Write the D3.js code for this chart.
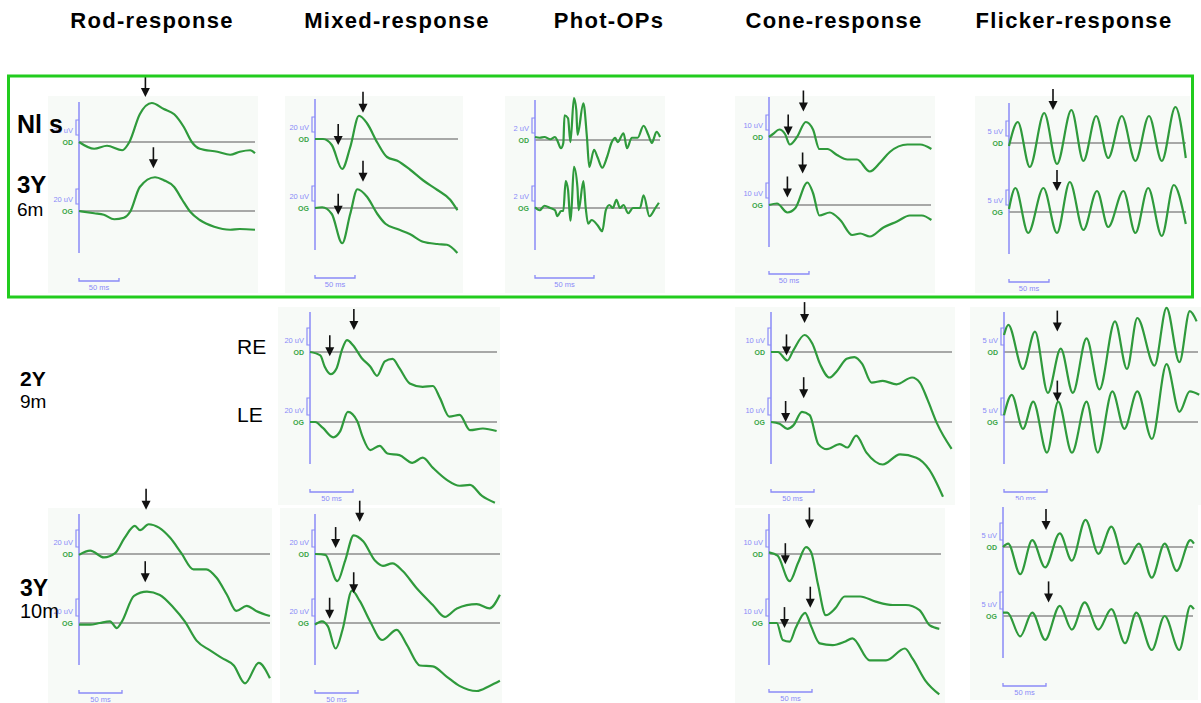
<!DOCTYPE html>
<html>
<head>
<meta charset="utf-8">
<script src="https://cdn.jsdelivr.net/npm/d3@7"></script>
<style>
  body { margin: 0; background: #fff; }
  svg text { font-family: "Liberation Sans", Arial, sans-serif; }
</style>
</head>
<body>
<div id="chart"></div>
<script>
// column titles and row labels
var columns = ["Rod-response", "Mixed-response", "Phot-OPs", "Cone-response", "Flicker-response"];
var ages = [["Nl s", "3Y", "6m"], ["2Y", "9m"], ["3Y", "10m"]];
var eyes = ["RE", "LE"];

// traces: [time ms, amplitude uV]
var rod1OD = [[0,0],[19,-9],[35,-5],[54,-11],[63,0],[76,37],[91,52],[106,44],[119,37],[131,20],[141,0],[151,-9],[173,-13],[189,-17],[201,-13],[214,-11],[220,-15]];
var rod1OG = [[0,0],[19,-3],[31,-5],[44,-11],[56,-9],[64,-1],[76,32],[95,45],[106,41],[119,32],[129,15],[139,-1],[151,-12],[169,-21],[189,-25],[201,-24],[220,-25]];
var rod1Arrows = [["OD",83,60],["OG",93,57]];

var mixed1OD = [[0,0],[10,0],[21,-8],[34,-40],[44,-11],[55,31],[65,21],[78,-5],[90,-24],[103,-29],[119,-41],[135,-55],[153,-68],[169,-81],[178,-95]];
var mixed1OG = [[0,0],[9,1],[21,-8],[34,-47],[44,-8],[53,25],[65,15],[78,-8],[88,-21],[103,-28],[119,-35],[135,-45],[153,-48],[165,-49],[178,-60]];
var mixed1Arrows = [["OD",29,-8],["OD",60,35],["OG",29,-9],["OG",60,35]];

var ops1OD = [[0,0.4],[4,0.3],[8,0.4],[13,0.1],[17,0.4],[19,-0.1],[22,-1.1],[24,-0.4],[25,3.3],[28,2.9],[30,-0.3],[33,5.6],[35,4],[36,0.7],[41,4.9],[44,0.4],[46,-3.6],[50,-1.3],[53,-2.3],[57,-3.7],[61,-2.3],[65,-0.3],[68,0.3],[70,-0.3],[75,0.9],[78,-1.1],[82,0.3],[87,0.3],[92,1.9],[96,0.7],[99,-0.4],[103,1.1],[106,0.4]];
var ops1OG = [[0,0.1],[4,-0.3],[8,0.3],[13,0],[17,-0.3],[19,-1.1],[22,-0.4],[24,-0.4],[26,3.6],[28,2.4],[30,-1.7],[31,0],[33,5.5],[36,2.7],[37,-0.3],[41,3.6],[43,0],[45,-2.1],[48,-1.6],[53,-2.3],[57,-3.1],[60,-0.3],[63,0.4],[66,0],[69,1.1],[72,0],[75,0.4],[79,-0.7],[83,0],[89,0],[92,1.7],[97,-1.1],[102,0],[105,0.7]];

var cone1OD = [[0,0],[5,2],[13,5],[20,2],[26,-5],[35,0],[46,10],[55,5],[63,-8],[73,-8],[85,-12],[98,-15],[110,-15],[126,-23],[139,-17],[151,-10],[173,-5],[189,-5],[203,-8]];
var cone1OG = [[0,0],[10,1],[23,-5],[33,-2],[48,15],[55,8],[63,-7],[76,-5],[89,-10],[104,-20],[114,-19],[126,-21],[143,-15],[160,-11],[176,-7],[191,-7],[203,-10]];
var cone1Arrows = [["OD",24,1],["OD",43,17],["OG",23,5],["OG",42,21]];

var flick1OD = [[0,-1],[11,7],[26,-8],[44,10],[60,-7],[78,11],[93,-6],[109,9],[124,-5],[141,9],[158,-6],[175,9],[191,-6],[208,12],[221,-5]];
var flick1OG = [[0,1],[8,8],[24,-7],[43,8],[60,-7],[76,10],[93,-6],[110,7],[124,-5],[143,7],[158,-7],[174,8],[191,-8],[206,9],[221,-4]];
var flick1Arrows = [["OD",55,11],["OG",60,7]];

var mixed2OD = [[0,0],[12,-4],[17,-17],[24,-26],[31,-19],[37,2],[43,14],[50,8],[60,-7],[70,-17],[78,-28],[87,-11],[96,-8],[104,-19],[116,-37],[131,-41],[143,-40],[151,-54],[162,-76],[174,-74],[186,-92],[201,-90],[217,-93]];
var mixed2OG = [[0,0],[6,0],[15,-7],[27,-18],[35,-11],[44,12],[55,1],[61,-17],[70,-33],[81,-28],[90,-37],[104,-39],[119,-48],[131,-42],[143,-54],[159,-68],[174,-75],[186,-74],[200,-87],[215,-95]];
var mixed2Arrows = [["OD",23,-5],["OD",51,26]];

var cone2OD = [[0,0],[8,0],[19,-5],[26,1],[39,10],[48,5],[57,-7],[68,-15],[77,-11],[88,-4],[97,-3],[106,-7],[117,-18],[130,-17],[146,-19],[164,-15],[173,-18],[182,-28],[193,-42],[210,-57]];
var cone2OG = [[0,0],[10,-1],[19,-4],[26,-2],[36,6],[45,4],[55,-13],[65,-16],[80,-13],[89,-15],[99,-8],[111,-18],[130,-25],[150,-19],[169,-21],[184,-28],[200,-44]];
var cone2Arrows = [["OD",18,-2],["OD",39,17],["OG",17,0],["OG",38,14]];

var flick2OD = [[0,5],[5,8],[22,-5],[36,6],[51,-12],[66,1],[80,-12],[96,4],[111,-11],[129,9],[143,-5],[155,10],[175,-4],[189,13],[204,-3],[216,12],[224,9]];
var flick2OG = [[0,2],[9,8],[22,-2],[34,6],[50,-9],[63,6],[79,-9],[96,6],[109,-9],[126,9],[140,-2],[155,9],[172,-5],[189,17],[204,3],[216,9],[227,8]];
var flick2Arrows = [["OD",62,6],["OG",62,6]];

var rod3OD = [[0,-1],[13,4],[29,-4],[42,1],[53,19],[65,33],[71,28],[81,35],[93,31],[106,19],[119,1],[133,-18],[148,-18],[160,-28],[172,-48],[183,-67],[195,-61],[206,-67],[222,-73]];
var rod3OG = [[0,-2],[13,-2],[24,0],[36,2],[44,-6],[50,2],[64,32],[79,37],[94,33],[110,18],[123,2],[137,-21],[152,-32],[166,-41],[180,-50],[193,-71],[209,-47],[222,-65]];
var rod3Arrows = [["OD",78,52],["OG",77,48]];

var mixed3OD = [[0,0],[12,-1],[26,-32],[35,-8],[45,22],[56,15],[70,-8],[79,-14],[90,-11],[102,-20],[118,-40],[137,-60],[151,-74],[165,-64],[188,-59],[203,-64],[215,-48]];
var mixed3OG = [[0,-2],[8,2],[15,-4],[24,-30],[32,-8],[43,38],[52,26],[64,2],[78,-20],[95,-8],[107,-26],[122,-50],[137,-51],[153,-63],[168,-74],[188,-80],[203,-74],[215,-68]];
var mixed3Arrows = [["OD",24,7],["OD",52,38],["OG",17,5],["OG",45,35]];

var cone3OD = [[0,1],[10,-1],[24,-16],[34,-5],[43,4],[49,1],[57,-18],[66,-36],[77,-32],[88,-25],[106,-25],[124,-28],[144,-30],[159,-30],[175,-33],[187,-42],[198,-44]];
var cone3OG = [[0,0],[9,0],[16,-10],[24,-11],[31,-3],[42,6],[49,-2],[59,-12],[74,-13],[88,-11],[97,-9],[117,-22],[136,-22],[158,-15],[167,-21],[182,-34],[198,-42]];
var cone3Arrows = [["OD",19,-6],["OD",47,15],["OG",18,-3],["OG",48,9]];

var flick3OD = [[0,0],[6,1],[20,-8],[34,2],[49,-6],[66,4],[80,-4],[96,8],[111,-2],[126,6],[142,-5],[158,1],[173,-9],[188,1],[202,-7],[218,2],[222,1]];
var flick3OG = [[0,1],[5,1],[20,-6],[34,1],[49,-7],[66,3],[80,-4],[95,4],[111,-4],[126,2],[142,-8],[155,1],[173,-10],[188,0],[205,-10],[218,3],[222,2]];
var flick3Arrows = [["OD",50,5],["OG",53,4]];

// panel layout (pixels): axis x, baselines, 50 ms bar length, calibration bracket height
var panels = [
  {row:0, col:0, cal:20, od:rod1OD, og:rod1OG, arrows:rod1Arrows, ax:79, bOD:142, bOG:211, bar:40, calPx:15, end:255, barY:281, bg:[48,96,210,197]},
  {row:0, col:1, cal:20, od:mixed1OD, og:mixed1OG, arrows:mixed1Arrows, ax:315, bOD:139, bOG:208, bar:40, calPx:15, end:458, barY:278, bg:[285,96,178,197]},
  {row:0, col:2, cal:2, od:ops1OD, og:ops1OG, arrows:[], ax:535, bOD:140, bOG:208, bar:59, calPx:15, end:660, barY:278, bg:[505,96,160,197]},
  {row:0, col:3, cal:10, od:cone1OD, og:cone1OG, arrows:cone1Arrows, ax:769, bOD:137, bOG:205, bar:40, calPx:15, end:931, barY:274, bg:[735,96,200,197]},
  {row:0, col:4, cal:5, od:flick1OD, og:flick1OG, arrows:flick1Arrows, ax:1009, bOD:143, bOG:212, bar:40, calPx:15, end:1186, barY:282, bg:[975,96,215,197]},
  {row:1, col:1, cal:20, od:mixed2OD, og:mixed2OG, arrows:mixed2Arrows, ax:310, bOD:352, bOG:422, bar:43, calPx:17, end:497, barY:492, bg:[278,307,222,198]},
  {row:1, col:3, cal:10, od:cone2OD, og:cone2OG, arrows:cone2Arrows, ax:771, bOD:352, bOG:422, bar:43, calPx:17, end:952, barY:492, bg:[735,307,220,198]},
  {row:1, col:4, cal:5, od:flick2OD, og:flick2OG, arrows:flick2Arrows, ax:1004, bOD:352, bOG:422, bar:43, calPx:17, end:1198, barY:492, bg:[970,307,231,198]},
  {row:2, col:0, cal:20, od:rod3OD, og:rod3OG, arrows:rod3Arrows, ax:79, bOD:554, bOG:623, bar:43, calPx:17, end:270, barY:693, bg:[48,508,224,195]},
  {row:2, col:1, cal:20, od:mixed3OD, og:mixed3OG, arrows:mixed3Arrows, ax:315, bOD:554, bOG:623, bar:43, calPx:17, end:500, barY:693, bg:[280,508,222,195]},
  {row:2, col:3, cal:10, od:cone3OD, og:cone3OG, arrows:cone3Arrows, ax:769, bOD:554, bOG:623, bar:43, calPx:17, end:941, barY:692, bg:[735,508,210,195]},
  {row:2, col:4, cal:5, od:flick3OD, og:flick3OG, arrows:flick3Arrows, ax:1003, bOD:547, bOG:616, bar:43, calPx:17, end:1193, barY:686, bg:[970,500,228,200]}
];

var headerX = [152, 397, 609, 834, 1074];

var traceColor = "#2f9a3c";
var blue = "#8a8af7";

var svg = d3.select("#chart")
    .append("svg")
    .attr("width", 1201)
    .attr("height", 703);

// column headers
svg.selectAll(".header")
    .data(columns)
    .enter()
    .append("text")
    .classed("header", true)
    .attr("x", (d, i) => headerX[i])
    .attr("y", 28)
    .attr("text-anchor", "middle")
    .attr("font-size", 22)
    .attr("font-weight", "bold")
    .attr("letter-spacing", 1.3)
    .text(d => d);

panels.forEach(function(p) {
    var g = svg.append("g");

    var x = d3.scaleLinear().domain([0, 50]).range([p.ax, p.ax + p.bar]);
    var yFor = function(base) {
        return d3.scaleLinear().domain([0, p.cal]).range([base, base - p.calPx]);
    };
    var yOD = yFor(p.bOD), yOG = yFor(p.bOG);

    g.append("rect")
        .attr("x", p.bg[0]).attr("y", p.bg[1])
        .attr("width", p.bg[2]).attr("height", p.bg[3])
        .attr("fill", "#f7faf7");

    // baselines
    [p.bOD, p.bOG].forEach(function(b) {
        g.append("line")
            .attr("x1", p.ax).attr("x2", p.end)
            .attr("y1", b).attr("y2", b)
            .attr("stroke", "#8d8d8d")
            .attr("stroke-width", 1.5);
    });

    // vertical axis
    g.append("line")
        .attr("x1", p.ax).attr("x2", p.ax)
        .attr("y1", p.bOD - 40).attr("y2", p.bOG + 42)
        .attr("stroke", blue)
        .attr("stroke-width", 1.5);

    // calibration brackets + labels
    [["OD", yOD], ["OG", yOG]].forEach(function(e) {
        var y = e[1];
        var y0 = y(0) - 7, y1 = y(p.cal) - 7;
        g.append("path")
            .attr("d", "M" + p.ax + "," + y0 + "H" + (p.ax - 3) + "V" + y1 + "H" + p.ax)
            .attr("fill", "none")
            .attr("stroke", blue)
            .attr("stroke-width", 1.2);
        g.append("text")
            .attr("x", p.ax - 6).attr("y", y(0) - 9)
            .attr("text-anchor", "end")
            .attr("font-size", 7.5)
            .attr("fill", blue)
            .text(p.cal + " uV");
        g.append("text")
            .attr("x", p.ax - 6).attr("y", y(0) + 3)
            .attr("text-anchor", "end")
            .attr("font-size", 7)
            .attr("font-weight", "bold")
            .attr("fill", "#3aa547")
            .text(e[0]);
    });

    // traces
    var line = function(y) {
        return d3.line()
            .x(d => x(d[0]))
            .y(d => y(d[1]))
            .curve(d3.curveMonotoneX);
    };
    g.append("path").datum(p.od)
        .attr("d", line(yOD))
        .attr("fill", "none").attr("stroke", traceColor).attr("stroke-width", 2.2);
    g.append("path").datum(p.og)
        .attr("d", line(yOG))
        .attr("fill", "none").attr("stroke", traceColor).attr("stroke-width", 2.2);

    // 50 ms scale bar
    var bx0 = x(0), bx1 = x(50);
    g.append("path")
        .attr("d", "M" + bx0 + "," + (p.barY - 3) + "V" + p.barY + "H" + bx1 + "V" + (p.barY - 3))
        .attr("fill", "none")
        .attr("stroke", blue)
        .attr("stroke-width", 1.3);
    g.append("text")
        .attr("x", (bx0 + bx1) / 2).attr("y", p.barY + 9)
        .attr("text-anchor", "middle")
        .attr("font-size", 7.5)
        .attr("fill", blue)
        .text("50 ms");

    // arrows marking a- and b-waves
    p.arrows.forEach(function(a) {
        var y = a[0] === "OD" ? yOD : yOG;
        var tx = x(a[1]), ty = y(a[2]);
        g.append("line")
            .attr("x1", tx).attr("x2", tx)
            .attr("y1", ty - 21).attr("y2", ty - 7)
            .attr("stroke", "#111")
            .attr("stroke-width", 1.6);
        g.append("path")
            .attr("d", "M" + (tx - 4.5) + "," + (ty - 9) + "L" + (tx + 4.5) + "," + (ty - 9) + "L" + tx + "," + ty + "Z")
            .attr("fill", "#111");
    });
});

// green frame around the normal subject row
svg.append("rect")
    .attr("x", 8.5).attr("y", 76)
    .attr("width", 1184).attr("height", 221)
    .attr("fill", "none")
    .attr("stroke", "#22cc1e")
    .attr("stroke-width", 3);

// row labels: [x, big label y, second big label y, small label y, big size, small size]
var labelPos = [[17, 133, 193, 216, 25, 19], [20, 386, null, 408, 21, 19], [20, 596, null, 618, 23, 20]];
ages.forEach(function(a, i) {
    var pos = labelPos[i];
    svg.append("text")
        .attr("x", pos[0]).attr("y", pos[1])
        .attr("font-size", pos[4]).attr("font-weight", "bold")
        .text(a[0]);
    if (a.length === 3) {
        svg.append("text")
            .attr("x", pos[0]).attr("y", pos[2])
            .attr("font-size", pos[4] - 1).attr("font-weight", "bold")
            .text(a[1]);
    }
    svg.append("text")
        .attr("x", pos[0]).attr("y", pos[3])
        .attr("font-size", pos[5])
        .text(a[a.length - 1]);
});

svg.selectAll(".eye")
    .data(eyes)
    .enter()
    .append("text")
    .classed("eye", true)
    .attr("x", 237)
    .attr("y", (d, i) => i === 0 ? 354 : 422)
    .attr("font-size", 21)
    .text(d => d);
</script>
</body>
</html>
